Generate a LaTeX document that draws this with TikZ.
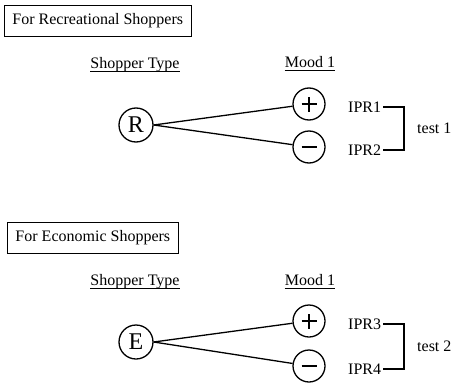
\documentclass[tikz,border=0pt]{standalone}
\usepackage{fontspec}
\setmainfont{Liberation Serif}
\begin{document}
\begin{tikzpicture}[x=1pt,y=-1pt,
  lbl/.style={font=\fontsize{16}{19}\selectfont, inner sep=0pt},
  ipr/.style={font=\fontsize{16}{19}\selectfont, inner ysep=0pt, inner xsep=2pt, anchor=west},
  titlebox/.style={draw, line width=1pt, font=\fontsize{16}{19}\selectfont,
    inner xsep=8pt, minimum height=31pt, anchor=west},
  typecirc/.style={circle, draw, line width=1.3pt, minimum size=34pt, inner sep=0pt,
    font=\fontsize{24}{26}\selectfont},
  moodcirc/.style={circle, draw, line width=1.3pt, minimum size=32pt, inner sep=0pt},
  link/.style={line width=1.3pt},
  sign/.style={line width=1.5pt},
  uline/.style={line width=1pt},
  brace/.style={line width=1.2pt},
]
\useasboundingbox (0,0) rectangle (452,388);

% ---------- recreational shoppers ----------
\node[titlebox] (box1) at (4,20.5) {For Recreational Shoppers};
\node[lbl, anchor=base] (st1) at (135,68) {Shopper Type};
\node[lbl, anchor=base] (m1) at (310,67) {Mood 1};
\draw[uline] ([yshift=-3.5pt]st1.base west) -- ([yshift=-3.5pt]st1.base east);
\draw[uline] ([yshift=-3.5pt]m1.base west) -- ([yshift=-3.5pt]m1.base east);

\node[typecirc] (R) at (136,125) {R};
\node[moodcirc] (p1) at (309,104) {};
\node[moodcirc] (n1) at (309,147) {};
\draw[sign] ([xshift=-7.5pt]p1.center) -- ([xshift=7.5pt]p1.center);
\draw[sign] ([yshift=-7.5pt]p1.center) -- ([yshift=7.5pt]p1.center);
\draw[sign] ([xshift=-7.5pt]n1.center) -- ([xshift=7.5pt]n1.center);
\draw[link] (R.east) -- (p1);
\draw[link] (R.east) -- (n1);

\node[ipr] (i1) at (346,107) {IPR1};
\node[ipr] (i2) at (346,150) {IPR2};
\coordinate (b1) at (404,128.5);
\draw[brace] (i1.east) -- (i1.east -| b1) -- (i2.east -| b1) -- (i2.east);
\node[ipr] (t1) at (415,128.5) {test 1};

% ---------- economic shoppers ----------
\node[titlebox] (box2) at (7,237.5) {For Economic Shoppers};
\node[lbl, anchor=base] (st2) at (135,285) {Shopper Type};
\node[lbl, anchor=base] (m2) at (310,285) {Mood 1};
\draw[uline] ([yshift=-3.5pt]st2.base west) -- ([yshift=-3.5pt]st2.base east);
\draw[uline] ([yshift=-3.5pt]m2.base west) -- ([yshift=-3.5pt]m2.base east);

\node[typecirc] (E) at (136,342) {E};
\node[moodcirc] (p2) at (309,321) {};
\node[moodcirc] (n2) at (309,366) {};
\draw[sign] ([xshift=-7.5pt]p2.center) -- ([xshift=7.5pt]p2.center);
\draw[sign] ([yshift=-7.5pt]p2.center) -- ([yshift=7.5pt]p2.center);
\draw[sign] ([xshift=-7.5pt]n2.center) -- ([xshift=7.5pt]n2.center);
\draw[link] (E.east) -- (p2);
\draw[link] (E.east) -- (n2);

\node[ipr] (i3) at (346,324) {IPR3};
\node[ipr] (i4) at (346,369) {IPR4};
\coordinate (b2) at (404,346.5);
\draw[brace] (i3.east) -- (i3.east -| b2) -- (i4.east -| b2) -- (i4.east);
\node[ipr] (t2) at (415,346.5) {test 2};
\end{tikzpicture}
\end{document}
